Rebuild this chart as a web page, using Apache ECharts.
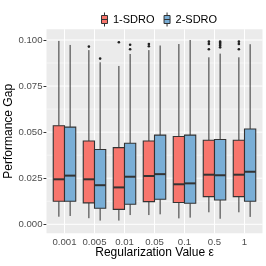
<!DOCTYPE html>
<html>
<head>
<meta charset="utf-8">
<script src="https://cdn.jsdelivr.net/npm/echarts@6/dist/echarts.min.js"></script>
<style>
html,body{margin:0;padding:0;background:#fff;}
#chart{width:266px;height:266px;}
</style>
</head>
<body>
<div id="chart"></div>
<script>
// ---- data ----
const categories = ['0.001', '0.005', '0.01', '0.05', '0.1', '0.5', '1'];
const seriesNames = ['1-SDRO', '2-SDRO'];

const sdro1Low    = [0.0041, 0.0033, 0.0020, 0.0050, 0.0032, 0.0065, 0.0065];
const sdro1Q1     = [0.0125, 0.0116, 0.0081, 0.0123, 0.0118, 0.0150, 0.0150];
const sdro1Median = [0.0244, 0.0244, 0.0200, 0.0262, 0.0217, 0.0269, 0.0269];
const sdro1Q3     = [0.0535, 0.0452, 0.0416, 0.0452, 0.0476, 0.0456, 0.0456];
const sdro1High   = [0.0995, 0.0945, 0.0859, 0.0945, 0.0978, 0.0906, 0.0906];
const sdro1Outliers = [[], [0.0964], [0.0988], [0.0978, 0.0966], [], [0.0991, 0.0978, 0.0950], [0.0991, 0.0978, 0.0950]];

const sdro2Low    = [0.0045, 0.0020, 0.0050, 0.0054, 0.0036, 0.0030, 0.0040];
const sdro2Q1     = [0.0125, 0.0087, 0.0109, 0.0136, 0.0114, 0.0132, 0.0125];
const sdro2Median = [0.0264, 0.0212, 0.0258, 0.0272, 0.0222, 0.0266, 0.0285];
const sdro2Q3     = [0.0527, 0.0406, 0.0440, 0.0484, 0.0484, 0.0460, 0.0517];
const sdro2High   = [0.0973, 0.0879, 0.0924, 0.0970, 0.1000, 0.0926, 0.0977];
const sdro2Outliers = [[], [0.0899], [0.0974, 0.0950], [], [], [0.0991, 0.0985, 0.0978, 0.0970, 0.0960], []];

const yTicks = [0, 0.025, 0.05, 0.075, 0.1];
const yMinorTicks = [0.0125, 0.0375, 0.0625, 0.0875];
const yMin = -0.0049, yMax = 0.1058;

// ---- styles ----
const FONT = '"Liberation Sans", Arial, sans-serif';
const colors = ['#F8766D', '#79AED6'];
const edge = '#333333';

function boxData(lo, q1, med, q3, hi) {
  return categories.map((c, i) => [c, lo[i], q1[i], med[i], q3[i], hi[i]]);
}
function outlierData(list) {
  const out = [];
  list.forEach((vals, i) => vals.forEach(v => out.push([categories[i], v])));
  return out;
}

function boxRenderer(side, fill) {
  return function (params, api) {
    const i = api.value(0);
    const band = api.size([1, 0])[0];
    const w = band * 0.375;
    const cx = api.coord([i, 0])[0] + side * w / 2;
    const yLo = api.coord([i, api.value(1)])[1];
    const yQ1 = api.coord([i, api.value(2)])[1];
    const yMed = api.coord([i, api.value(3)])[1];
    const yQ3 = api.coord([i, api.value(4)])[1];
    const yHi = api.coord([i, api.value(5)])[1];
    return {
      type: 'group',
      children: [
        { type: 'line', shape: { x1: cx, y1: yQ3, x2: cx, y2: yHi }, style: { stroke: edge, lineWidth: 1 } },
        { type: 'line', shape: { x1: cx, y1: yQ1, x2: cx, y2: yLo }, style: { stroke: edge, lineWidth: 1 } },
        { type: 'rect', shape: { x: cx - w / 2, y: yQ3, width: w, height: yQ1 - yQ3 }, style: { fill: fill, stroke: edge, lineWidth: 1.1 } },
        { type: 'line', shape: { x1: cx - w / 2, y1: yMed, x2: cx + w / 2, y2: yMed }, style: { stroke: edge, lineWidth: 2 } }
      ]
    };
  };
}
function outlierRenderer(side) {
  return function (params, api) {
    const i = api.value(0);
    const band = api.size([1, 0])[0];
    const w = band * 0.375;
    const p = api.coord([i, api.value(1)]);
    return { type: 'circle', shape: { cx: p[0] + side * w / 2, cy: p[1], r: 1.3 }, style: { fill: '#222' } };
  };
}

const legendIcon = 'path://M3,0L3,3M0,3L6,3L6,11L0,11ZM0,7L6,7M3,11L3,14';

const chart = echarts.init(document.getElementById('chart'), null, { renderer: 'canvas' });
chart.setOption({
  animation: false,
  backgroundColor: '#ffffff',
  textStyle: { fontFamily: FONT },
  legend: {
    left: 96, top: 7,
    itemWidth: 7, itemHeight: 14, itemGap: 9,
    textStyle: { fontSize: 11, color: '#000', fontFamily: FONT },
    data: [
      { name: seriesNames[0], icon: legendIcon, itemStyle: { color: colors[0], borderColor: edge, borderWidth: 1 } },
      { name: seriesNames[1], icon: legendIcon, itemStyle: { color: colors[1], borderColor: edge, borderWidth: 1 } }
    ]
  },
  grid: [
    { left: 46.5, top: 29.3, width: 216, height: 204, show: true, backgroundColor: '#EBEBEB', borderWidth: 0, containLabel: false, outerBoundsMode: 'none' },
    { left: 49.5, top: 29.3, width: 210, height: 204, show: false, containLabel: false, outerBoundsMode: 'none' }
  ],
  xAxis: [
    { type: 'value', gridIndex: 0, min: 0, max: 1, show: false },
    {
      type: 'category', gridIndex: 1, data: categories, boundaryGap: true,
      axisLine: { show: false },
      axisTick: { show: true, alignWithLabel: true, interval: 0, length: 3, lineStyle: { color: edge, width: 1 } },
      axisLabel: { interval: 0, margin: 4, fontSize: 9.6, color: '#4D4D4D', fontFamily: FONT, hideOverlap: false },
      splitLine: { show: false },
      name: 'Regularization Value ε', nameLocation: 'middle', nameGap: 13, nameMoveOverlap: false,
      nameTextStyle: { fontSize: 12, color: '#000', fontFamily: FONT }
    }
  ],
  yAxis: [
    {
      type: 'value', gridIndex: 0, min: yMin, max: yMax,
      axisLine: { show: false },
      axisTick: { show: true, length: 3, customValues: yTicks, lineStyle: { color: edge, width: 1 } },
      axisLabel: { margin: 4, fontSize: 9.6, color: '#4D4D4D', fontFamily: FONT, customValues: yTicks, formatter: v => v.toFixed(3) },
      splitLine: { show: false },
      name: 'Performance Gap', nameLocation: 'middle', nameGap: 32, nameMoveOverlap: false,
      nameTextStyle: { fontSize: 12, color: '#000', fontFamily: FONT }
    },
    { type: 'value', gridIndex: 1, min: yMin, max: yMax, show: false, splitLine: { show: false } }
  ],
  series: [
    {
      type: 'custom', name: 'minorGrid', xAxisIndex: 0, yAxisIndex: 0, z: 1, silent: true,
      data: yMinorTicks.map(v => [0, v]),
      renderItem: function (params, api) {
        const y = api.coord([0, api.value(1)])[1];
        const cs = params.coordSys;
        return { type: 'line', shape: { x1: cs.x, y1: y, x2: cs.x + cs.width, y2: y }, style: { stroke: '#ffffff', lineWidth: 0.5 } };
      }
    },
    {
      type: 'custom', name: 'majorGrid', xAxisIndex: 0, yAxisIndex: 0, z: 1, silent: true,
      data: yTicks.map(v => [0, v]),
      renderItem: function (params, api) {
        const y = api.coord([0, api.value(1)])[1];
        const cs = params.coordSys;
        return { type: 'line', shape: { x1: cs.x, y1: y, x2: cs.x + cs.width, y2: y }, style: { stroke: '#ffffff', lineWidth: 1 } };
      }
    },
    {
      type: 'custom', name: 'vGrid', xAxisIndex: 1, yAxisIndex: 1, z: 1, silent: true,
      data: categories.map(c => [c, 0]),
      renderItem: function (params, api) {
        const x = api.coord([api.value(0), 0])[0];
        const cs = params.coordSys;
        return { type: 'line', shape: { x1: x, y1: cs.y, x2: x, y2: cs.y + cs.height }, style: { stroke: '#ffffff', lineWidth: 1 } };
      }
    },
    {
      type: 'custom', name: seriesNames[0], xAxisIndex: 1, yAxisIndex: 1, z: 2,
      itemStyle: { color: colors[0], borderColor: edge },
      encode: { x: 0, y: [1, 2, 3, 4, 5] },
      data: boxData(sdro1Low, sdro1Q1, sdro1Median, sdro1Q3, sdro1High),
      renderItem: boxRenderer(-1, colors[0])
    },
    {
      type: 'custom', name: seriesNames[1], xAxisIndex: 1, yAxisIndex: 1, z: 2,
      itemStyle: { color: colors[1], borderColor: edge },
      encode: { x: 0, y: [1, 2, 3, 4, 5] },
      data: boxData(sdro2Low, sdro2Q1, sdro2Median, sdro2Q3, sdro2High),
      renderItem: boxRenderer(1, colors[1])
    },
    {
      type: 'custom', name: 'out1', xAxisIndex: 1, yAxisIndex: 1, z: 3, silent: true,
      data: outlierData(sdro1Outliers),
      renderItem: outlierRenderer(-1)
    },
    {
      type: 'custom', name: 'out2', xAxisIndex: 1, yAxisIndex: 1, z: 3, silent: true,
      data: outlierData(sdro2Outliers),
      renderItem: outlierRenderer(1)
    }
  ]
});
</script>
</body>
</html>
